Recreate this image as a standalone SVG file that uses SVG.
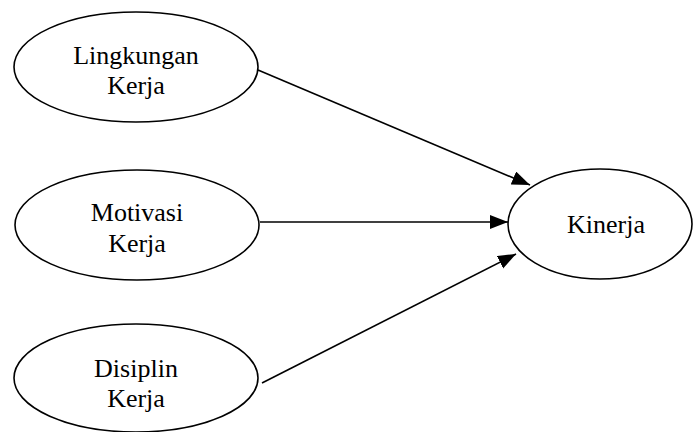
<svg xmlns="http://www.w3.org/2000/svg" width="694" height="432" viewBox="0 0 694 432">
<style>
.node ellipse{fill:#fff;stroke:#000;stroke-width:1.6}
.node text{font-family:"Liberation Serif","Times New Roman",serif;font-size:26px;fill:#000;text-anchor:middle}
.edge{stroke:#000;stroke-width:1.6;fill:none;marker-end:url(#ah)}
</style>
<defs>
<marker id="ah" markerUnits="userSpaceOnUse" markerWidth="19" markerHeight="15" refX="18" refY="7" orient="auto">
<path d="M0,0 L18,7 L0,14 z" fill="#000"/>
</marker>
</defs>
<rect width="694" height="432" fill="#fff"/>
<g id="edges">
<line class="edge" x1="258" y1="70" x2="530" y2="185"/>
<line class="edge" x1="260" y1="222" x2="508" y2="222"/>
<line class="edge" x1="262" y1="383" x2="516" y2="254"/>
</g>
<g id="lingkungan" class="node">
<ellipse cx="136" cy="67" rx="122" ry="55"/>
<text x="136" y="64">Lingkungan</text>
<text x="136" y="94">Kerja</text>
</g>
<g id="motivasi" class="node">
<ellipse cx="137" cy="225" rx="122" ry="55"/>
<text x="137" y="221">Motivasi</text>
<text x="137" y="252">Kerja</text>
</g>
<g id="disiplin" class="node">
<ellipse cx="136" cy="378" rx="122" ry="54"/>
<text x="136" y="377">Disiplin</text>
<text x="136" y="407">Kerja</text>
</g>
<g id="kinerja" class="node">
<ellipse cx="600" cy="224" rx="92" ry="55"/>
<text x="606" y="233">Kinerja</text>
</g>
</svg>
